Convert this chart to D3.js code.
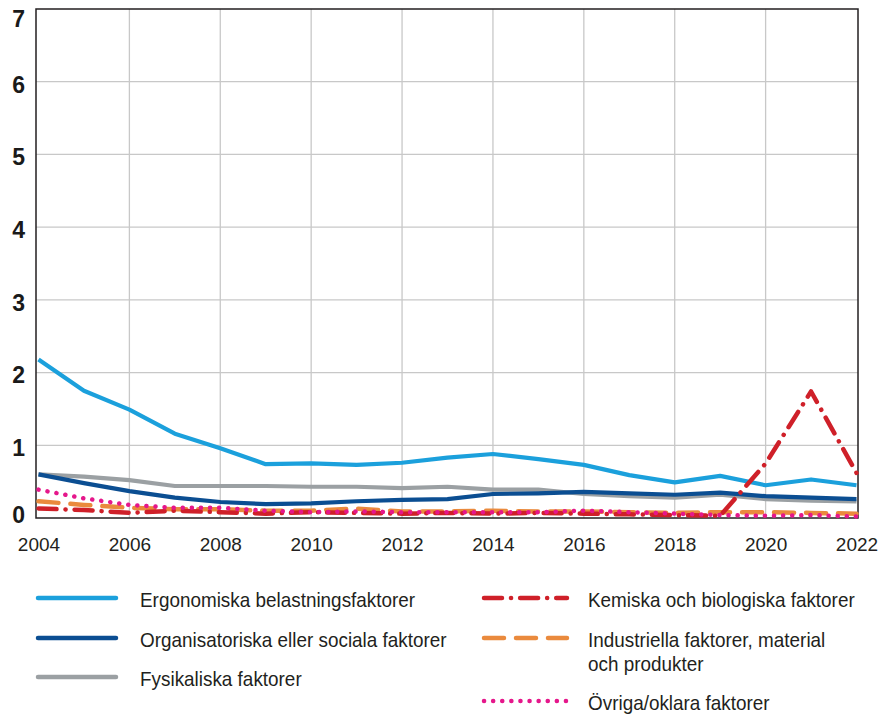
<!DOCTYPE html>
<html><head><meta charset="utf-8">
<script src="https://cdn.jsdelivr.net/npm/d3@7"></script>
<style>body{margin:0;background:#fff}svg{display:block}</style>
</head><body>
<svg id="c" width="886" height="714"></svg>
<script>
const years = d3.range(2004, 2023);
const yTicks = [0,1,2,3,4,5,6,7];
const xTickLabels = [2004,2006,2008,2010,2012,2014,2016,2018,2020,2022];
const ergonomiska =     [2.18,1.75,1.49,1.16,0.96,0.74,0.75,0.73,0.76,0.83,0.88,0.81,0.73,0.59,0.49,0.58,0.45,0.53,0.45];
const organisatoriska = [0.60,0.48,0.37,0.28,0.22,0.19,0.20,0.23,0.25,0.26,0.33,0.34,0.36,0.34,0.32,0.35,0.30,0.28,0.26];
const fysikaliska =     [0.60,0.57,0.52,0.44,0.44,0.44,0.43,0.43,0.41,0.43,0.39,0.39,0.33,0.30,0.28,0.32,0.26,0.24,0.23];
const kemiska =         [0.13,0.11,0.07,0.10,0.08,0.06,0.08,0.07,0.06,0.07,0.06,0.07,0.06,0.05,0.04,0.03,0.75,1.74,0.62];
const industriella =    [0.23,0.18,0.14,0.12,0.12,0.10,0.10,0.13,0.09,0.09,0.10,0.09,0.09,0.08,0.07,0.08,0.08,0.07,0.06];
const ovriga =          [0.39,0.27,0.18,0.14,0.14,0.10,0.08,0.09,0.08,0.08,0.08,0.08,0.10,0.08,0.06,0.04,0.03,0.04,0.02];

const series = [
  {name:"Fysikaliska faktorer", values:fysikaliska, color:"#9ba0a3", dash:null, cap:"butt"},
  {name:"Organisatoriska eller sociala faktorer", values:organisatoriska, color:"#0b4e92", dash:null, cap:"butt"},
  {name:"Ergonomiska belastningsfaktorer", values:ergonomiska, color:"#1ba0dc", dash:null, cap:"butt"},
  {name:"Industriella faktorer, material och produkter", values:industriella, color:"#ea8a3d", dash:"20 12", cap:"round"},
  {name:"Kemiska och biologiska faktorer", values:kemiska, color:"#cf2029", dash:"18 9 0.1 9", cap:"round"},
  {name:"Övriga/oklara faktorer", values:ovriga, color:"#e5178b", dash:"0.1 9", cap:"round"}
];

const ARIAL = "'Liberation Sans', Arial, Helvetica, sans-serif";

const svg = d3.select("#c");
const L = 36, R = 858, T = 9, B = 518;
const x = d3.scaleLinear().domain([2004, 2022]).range([38.5, 856.5]);
const y = d3.scaleLinear().domain([0, 7]).range([B, T]);

// grid
svg.append("g").selectAll("line").data(yTicks.filter(d=>d>0 && d<7)).join("line")
  .attr("x1", L).attr("x2", R).attr("y1", d=>y(d)).attr("y2", d=>y(d))
  .attr("stroke", "#c8c8c8").attr("stroke-width", 1.3);
svg.append("g").selectAll("line").data(xTickLabels.filter(d=>d>2004 && d<2022)).join("line")
  .attr("x1", d=>x(d)).attr("x2", d=>x(d)).attr("y1", T).attr("y2", B)
  .attr("stroke", "#c8c8c8").attr("stroke-width", 1.3);

// frame
svg.append("rect").attr("x", L).attr("y", T).attr("width", R-L).attr("height", B-T)
  .attr("fill", "none").attr("stroke", "#231f20").attr("stroke-width", 1.5);

// y axis labels
const yAxis = d3.axisLeft(y).tickValues(yTicks).tickSize(0).tickPadding(11).tickFormat(d3.format("d"));
const gy = svg.append("g").attr("transform", `translate(${L},0)`).call(yAxis);
gy.select(".domain").remove();
gy.selectAll("text").style("font-family", ARIAL)
  .attr("font-weight", "bold").attr("font-size", 23).attr("fill", "#1a1a1a")
  .attr("dy", "0.45em");
gy.selectAll(".tick").filter(d=>d===7).select("text").attr("dy", "0.75em");
gy.selectAll(".tick").filter(d=>d===0).select("text").attr("dy", "0.2em");

// x axis labels
const xAxis = d3.axisBottom(x).tickValues(xTickLabels).tickSize(0).tickPadding(20).tickFormat(d3.format("d"));
const gx = svg.append("g").attr("transform", `translate(0,${B})`).call(xAxis);
gx.select(".domain").remove();
gx.selectAll("text").style("font-family", ARIAL)
  .attr("font-size", 19).attr("fill", "#231f20");

// lines
const line = d3.line().x((d,i)=>x(years[i])).y(d=>y(d));
series.forEach(s => {
  svg.append("path").datum(s.values).attr("d", line)
    .attr("fill", "none").attr("stroke", s.color).attr("stroke-width", s.dash ? 4.5 : 4.2)
    .attr("stroke-dasharray", s.dash).attr("stroke-linecap", s.cap).attr("stroke-linejoin", "round");
});

// legend
const legendItems = [
  {s:series[2], lx:38, ly:598, lines:["Ergonomiska belastningsfaktorer"]},
  {s:series[1], lx:38, ly:638, lines:["Organisatoriska eller sociala faktorer"]},
  {s:series[0], lx:38, ly:677, lines:["Fysikaliska faktorer"]},
  {s:series[4], lx:484, ly:598, lines:["Kemiska och biologiska faktorer"]},
  {s:series[3], lx:484, ly:638, lines:["Industriella faktorer, material","och produkter"]},
  {s:series[5], lx:484, ly:701, lines:["Övriga/oklara faktorer"]}
];
const lg = svg.append("g");
legendItems.forEach(it => {
  const w = it.lx < 100 ? 78 : 83;
  lg.append("line").attr("x1", it.lx).attr("x2", it.lx + w).attr("y1", it.ly).attr("y2", it.ly)
    .attr("stroke", it.s.color).attr("stroke-width", 4.5)
    .attr("stroke-dasharray", it.s.dash).attr("stroke-linecap", "round");
  const tx = it.lx + (it.lx < 100 ? 102 : 104);
  const t = lg.append("text").attr("transform", `translate(${tx},${it.ly + 9}) scale(0.9,1)`)
    .style("font-family", ARIAL)
    .attr("font-size", 21).attr("fill", "#231f20");
  it.lines.forEach((ln, i) => t.append("tspan").attr("x", 0).attr("dy", i ? 24 : 0).text(ln));
});
</script>
</body></html>
